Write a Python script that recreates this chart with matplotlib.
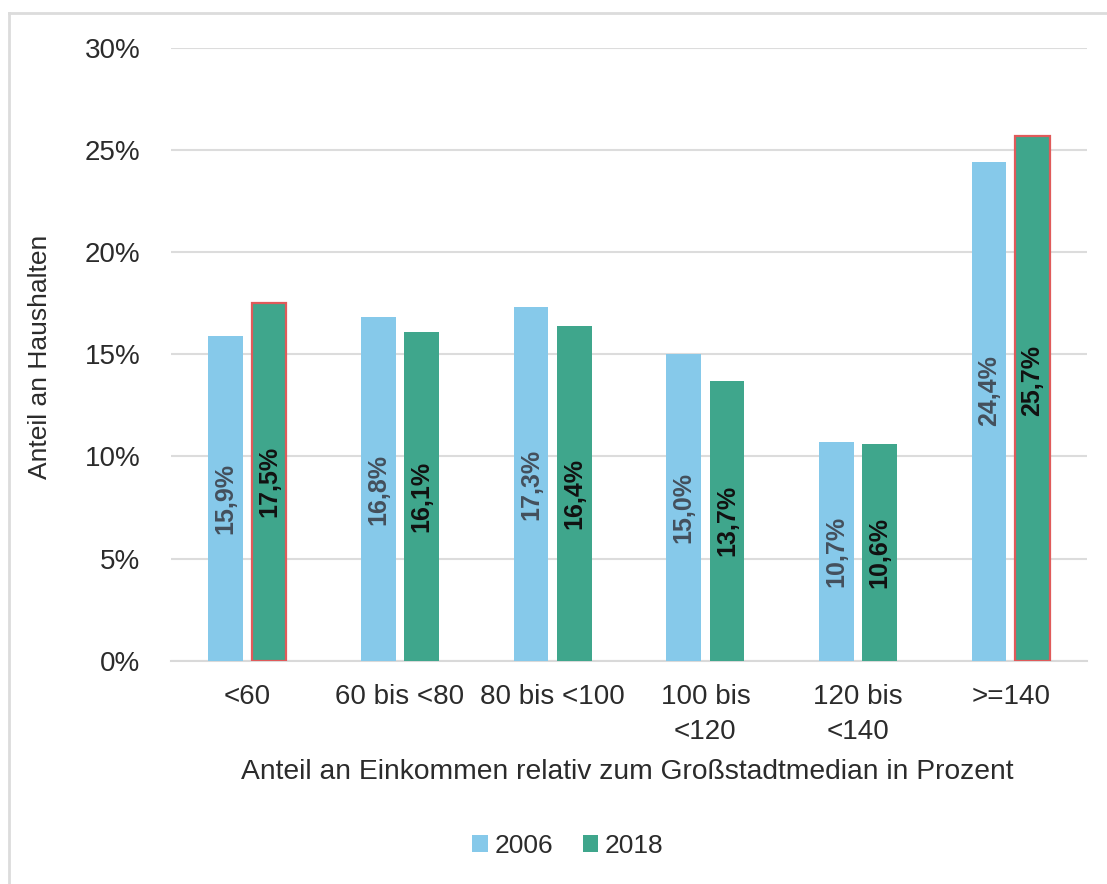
import matplotlib
matplotlib.use("Agg")
import matplotlib.pyplot as plt
from matplotlib.lines import Line2D
from matplotlib.patches import Patch
import numpy as np

plt.rcParams['font.family'] = ['Liberation Sans', 'DejaVu Sans']

categories = ['<60', '60 bis <80', '80 bis <100', '100 bis\n<120', '120 bis\n<140', '>=140']
years = ['2006', '2018']
werte_2006 = [15.9, 16.8, 17.3, 15.0, 10.7, 24.4]
werte_2018 = [17.5, 16.1, 16.4, 13.7, 10.6, 25.7]
labels_2006 = ['15,9%', '16,8%', '17,3%', '15,0%', '10,7%', '24,4%']
labels_2018 = ['17,5%', '16,1%', '16,4%', '13,7%', '10,6%', '25,7%']
# bars outlined in red in the original
hervorgehoben_2018 = [True, False, False, False, False, True]

blau = '#86c9ea'
gruen = '#3fa68c'
text_col = '#2b2b2b'

fig = plt.figure(figsize=(11.07, 8.84), dpi=100)
ax = fig.add_axes([0.1545, 0.2526, 0.8275, 0.6934])

x = np.arange(len(categories))
w = 0.228
off = 0.142

bars_a = ax.bar(x - off, werte_2006, width=w, color=blau, zorder=3)
bars_b = ax.bar(x + off, werte_2018, width=w, color=gruen, zorder=3)
for b, hl in zip(bars_b, hervorgehoben_2018):
    if hl:
        b.set_edgecolor('#e05a5a')
        b.set_linewidth(1.6)

# value labels, rotated inside the bars
for i in range(len(categories)):
    ya = werte_2006[i] / 2
    yb = werte_2018[i] / 2
    if i == len(categories) - 1:
        # last group labels were moved up in the original
        ya = 13.2
        yb = 13.7
    ax.text(x[i] - off, ya, labels_2006[i], rotation=90, ha='center', va='center',
            fontsize=18, fontweight='bold', color='#44505c', zorder=4)
    ax.text(x[i] + off, yb, labels_2018[i], rotation=90, ha='center', va='center',
            fontsize=18, fontweight='bold', color='#111111', zorder=4)

ax.set_xlim(-0.5, len(categories) - 0.5)
ax.set_ylim(0, 30)
ax.set_yticks(range(0, 31, 5))
ax.set_yticklabels([f'{v}%' for v in range(0, 31, 5)])
ax.set_xticks(x)
ax.set_xticklabels(categories, linespacing=1.45)
ax.tick_params(axis='both', length=0, labelsize=20, labelcolor=text_col)
ax.tick_params(axis='y', pad=22)
ax.tick_params(axis='x', pad=17)

ax.grid(axis='y', color='#dcdcdc', linewidth=1.5, zorder=0)
for s in ['top', 'right', 'left']:
    ax.spines[s].set_visible(False)
ax.spines['bottom'].set_color('#d9d9d9')
ax.spines['bottom'].set_linewidth(1.5)

fig.text(40 / 1107, 1 - 357 / 884, 'Anteil an Haushalten', rotation=90,
         ha='center', va='center', fontsize=19, color=text_col)
fig.text(627 / 1107, 1 - 772 / 884,
         'Anteil an Einkommen relativ zum Großstadtmedian in Prozent',
         ha='center', va='center', fontsize=20.3, color=text_col)

handles = [Patch(facecolor=blau), Patch(facecolor=gruen)]
fig.legend(handles, years, loc='center', bbox_to_anchor=(568 / 1107, 1 - 846 / 884),
           ncol=2, frameon=False, fontsize=19, handlelength=0.6, handleheight=0.6,
           handletextpad=0.25, columnspacing=1.1, labelcolor=text_col)

# outer chart frame (cut off on the right and bottom in the original)
fig.add_artist(Line2D([9 / 1107, 1.0], [1 - 13 / 884, 1 - 13 / 884],
                      transform=fig.transFigure, color='#dcdcdc', linewidth=2))
fig.add_artist(Line2D([9 / 1107, 9 / 1107], [0.0, 1 - 13 / 884],
                      transform=fig.transFigure, color='#dcdcdc', linewidth=2))

fig.savefig('out.png', dpi=100, facecolor='white')
